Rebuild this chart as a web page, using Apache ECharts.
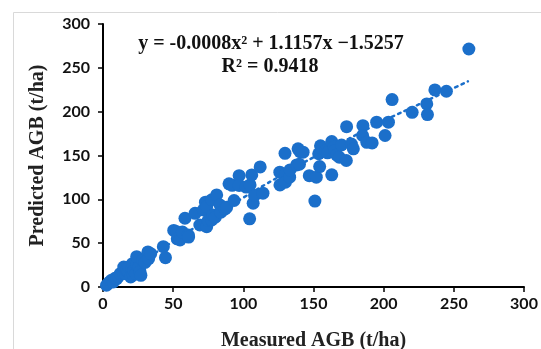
<!DOCTYPE html>
<html>
<head>
<meta charset="utf-8">
<script src="https://cdn.jsdelivr.net/npm/echarts@6/dist/echarts.min.js"></script>
<style>html,body{margin:0;padding:0;background:#fff;}#c{width:541px;height:349px;}</style>
</head>
<body>
<div id="c"></div>
<script>
// Measured AGB (t/ha)
const measured = [
  2.5,3.7,5,6,7.4,8.6,9.8,11,12.3,14.5,14.8,16,17,18,18.4,19.7,20.4,21,21.6,22,23.4,24,24,25.8,26.4,27,28.3,30,32,32.5,34,43,44.5,
  50.4,52.5,52.9,54.9,56.6,58.4,60.8,61,65.6,69,71.5,73,73.9,73.9,75,77.5,77.5,78.4,80,81,83.4,84,87,88.1,89.8,92,93.4,97,97,
  102,104.5,104.8,106,107,108,112,114,126.1,126,129.7,129.7,130,130,133,133.3,138,139,140.4,142.6,140,147,
  151,152,154.4,153.7,155,155.8,158.6,160,163,164.7,163,165,166.5,168.4,170,173.4,173.6,177,178.4,185.2,185,188,191.8,195,
  201,203.4,206,220.3,230.7,231.2,236.5,244.7,260.7
];
// Predicted AGB (t/ha)
const predicted = [
  2,4,6,7.6,5.7,9.9,9.5,12,15.2,15.6,22.8,15.2,19,17.5,22.8,11.4,21.3,26.6,13.7,19,15.2,25,34.6,22.8,17.5,13.3,30.4,28,40,32.3,38,46,33.5,
  64.5,63,55,53.6,62.6,78.4,59.3,57,84,70.7,87.8,96.8,91.6,68.8,76,76.4,99.5,82,79.7,105,93.5,85.4,89,90.9,117.7,116,98.7,127,115.8,
  114,77.8,116.4,127.8,95.5,104.4,137,107,116.4,131,152.5,122,129,119.6,125.3,133.5,139.3,157.6,154.3,153.8,140,127,
  98,125.3,137.4,152,161,158.2,155.7,153,166,159.5,128,155,150.6,148,162,144.3,182.9,163,157.6,184,172.8,165,164.4,188,
  172.8,188,213.8,199.3,208.8,196.7,224.8,223.3,271.5
];
// Polynomial trendline
const trendX = [0, 25, 50, 75, 100, 125, 150, 175, 200, 230, 260];
const trendY = [-1.5, 26, 52, 77.5, 102, 125.5, 148, 169, 189.5, 212, 234.5];
const ticks = [0, 50, 100, 150, 200, 250, 300];

const blue = '#1b6fca';
const pts = measured.map((x, i) => [x, predicted[i]]);
const trend = trendX.map((x, i) => [x, trendY[i]]);

const chart = echarts.init(document.getElementById('c'));
const axisCommon = {
  type: 'value', min: ticks[0], max: ticks[ticks.length - 1], interval: 50,
  splitLine: { show: false },
  axisLine: { show: true, lineStyle: { color: '#000', width: 2 } },
  axisTick: { show: true, inside: false, length: 5, lineStyle: { color: '#000', width: 1.5 } },
  axisLabel: { color: '#111', fontFamily: 'Lato', fontWeight: 'bold', fontSize: 16 },
  nameTextStyle: { color: '#222', fontFamily: 'Liberation Serif', fontWeight: 'bold', fontSize: 20 },
  nameLocation: 'middle'
};
chart.setOption({
  animation: false,
  backgroundColor: '#fff',
  grid: { left: 103, right: 17, top: 24, bottom: 62, containLabel: false, outerBoundsMode: 'none' },
  xAxis: Object.assign({}, axisCommon, {
    name: 'Measured AGB (t/ha)', nameGap: 44,
    axisLabel: Object.assign({}, axisCommon.axisLabel, { margin: 9 })
  }),
  yAxis: Object.assign({}, axisCommon, {
    name: 'Predicted AGB (t/ha)', nameGap: 55,
    axisLabel: Object.assign({}, axisCommon.axisLabel, { margin: 13 })
  }),
  graphic: [
    { type: 'rect', shape: { x: 13.5, y: 12.5, width: 700, height: 500 }, style: { fill: 'none', stroke: '#d9d9d9', lineWidth: 1 }, silent: true },
    { type: 'text', x: 271, y: 44, style: { text: 'y = -0.0008x² + 1.1157x −1.5257', font: 'bold 20px "Liberation Serif"', fill: '#111', align: 'center', verticalAlign: 'middle' } },
    { type: 'text', x: 270, y: 67, style: { text: 'R² = 0.9418', font: 'bold 20px "Liberation Serif"', fill: '#111', align: 'center', verticalAlign: 'middle' } }
  ],
  series: [
    { type: 'line', data: trend, smooth: true, showSymbol: false, z: 1,
      lineStyle: { color: blue, width: 2.5, type: [2.5, 4.5], cap: 'round' } },
    { type: 'scatter', data: pts, symbolSize: 13, z: 2,
      itemStyle: { color: blue, opacity: 1 } }
  ]
});
</script>
</body>
</html>
